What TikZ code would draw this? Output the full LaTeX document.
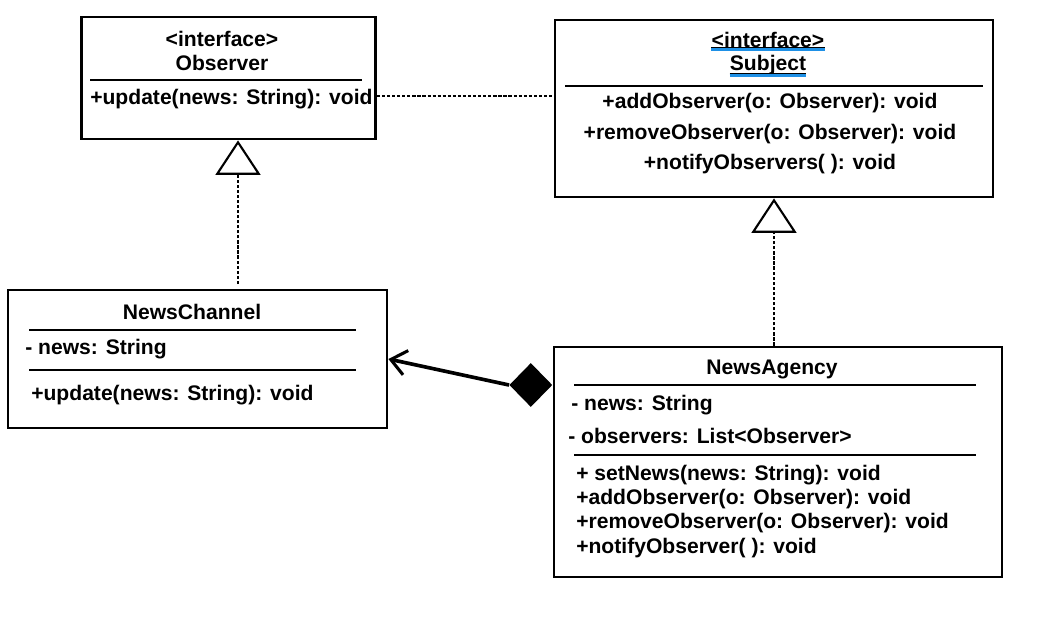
\documentclass[tikz,border=0pt]{standalone}
\usepackage{fontspec}
\setmainfont{Liberation Sans}
\usepackage{xcolor}
\definecolor{spell}{RGB}{30,144,230}
\usetikzlibrary{shapes.geometric, arrows.meta, positioning, calc}

\begin{document}
\begin{tikzpicture}[
  x=0.025cm, y=-0.025cm,
  font=\fontsize{15}{18}\selectfont\bfseries,
  cls/.style={draw, line width=1.9pt, inner sep=0pt},
  txt/.style={inner sep=0pt},
  lft/.style={txt, anchor=west},
  sep/.style={line width=1.8pt},
  dep/.style={line width=1.9pt, dash pattern=on 2.3pt off 1.3pt},
  real/.style={dep, -{Triangle[open, length=0.86cm, width=1.12cm, line width=1.5pt]}},
  comp/.style={line width=2.6pt, -{Straight Barb[length=3.8mm, width=6.2mm, line width=2.2pt]}},
  uline/.style={line width=1.1pt},
  squig/.style={line width=1.5pt, spell}
]
\useasboundingbox (0,0) rectangle (1040,627);
\node[cls, minimum width=7.35cm, minimum height=3.05cm] (observer) at (228.5,78) {};
\node[cls, minimum width=10.95cm, minimum height=4.425cm] (subject) at (774,108.5) {};
\node[cls, minimum width=9.475cm, minimum height=3.45cm] (channel) at (197.5,359) {};
\node[cls, minimum width=11.2cm, minimum height=5.75cm] (agency) at (778,462) {};
\node[txt] (obsst)   at (222,39)  {<interface>};
\node[txt] (obsname) at (222,63)  {Observer};
\node[lft] (obsop)   at (90,99)   {+update(news: String): void};
\node[txt] (subst)   at (768,39.5) {<interface>};
\node[txt] (subname) at (768,65.5) {Subject};
\node[txt] (subop1)  at (770,103) {+addObserver(o: Observer): void};
\node[txt] (subop2)  at (770,134) {+removeObserver(o: Observer): void};
\node[txt] (subop3)  at (770,164) {+notifyObservers( ): void};
\node[txt] (chname)  at (192,312) {NewsChannel};
\node[lft] (chattr)  at (25,349)  {- news: String};
\node[lft] (chop)    at (31,395)  {+update(news: String): void};
\node[txt] (agname)  at (772,369) {NewsAgency};
\node[lft] (agattr1) at (571,405) {- news: String};
\node[lft] (agattr2) at (568,436) {- observers: List<Observer>};
\node[lft] (agop1)   at (576,475) {+ setNews(news: String): void};
\node[lft] (agop2)   at (576,499) {+addObserver(o: Observer): void};
\node[lft] (agop3)   at (576,523) {+removeObserver(o: Observer): void};
\node[lft] (agop4)   at (576,548) {+notifyObserver( ): void};
\draw[sep] (90,80) -- (362,80);
\draw[sep] (565,86) -- (983,86);
\draw[sep] (29,330) -- (356,330);
\draw[sep] (29,370) -- (356,370);
\draw[sep] (574,385) -- (976,385);
\draw[sep] (574,455) -- (976,455);
\draw[uline] (subst.west |- 0,47.5) -- (subst.east |- 0,47.5);
\draw[squig] (subst.west |- 0,49.5) -- (subst.east |- 0,49.5);
\draw[uline] (subname.west |- 0,73.5) -- (subname.east |- 0,73.5);
\draw[squig] (subname.west |- 0,75.5) -- (subname.east |- 0,75.5);
\node[diamond, fill, inner sep=0pt, minimum width=1.075cm, minimum height=1.1cm,
      anchor=east] (dia) at (agency.west |- 0,385) {};
\coordinate (chreal) at (238,284);
\draw[dep] (observer.east |- 0,96) -- (subject.west |- 0,96);
\draw[real] (chreal) -- (chreal |- observer.south);
\draw[real] (agency.north -| subject.south) -- (subject.south);
\draw[comp] (dia.west) -- (channel.east);
\end{tikzpicture}
\end{document}
